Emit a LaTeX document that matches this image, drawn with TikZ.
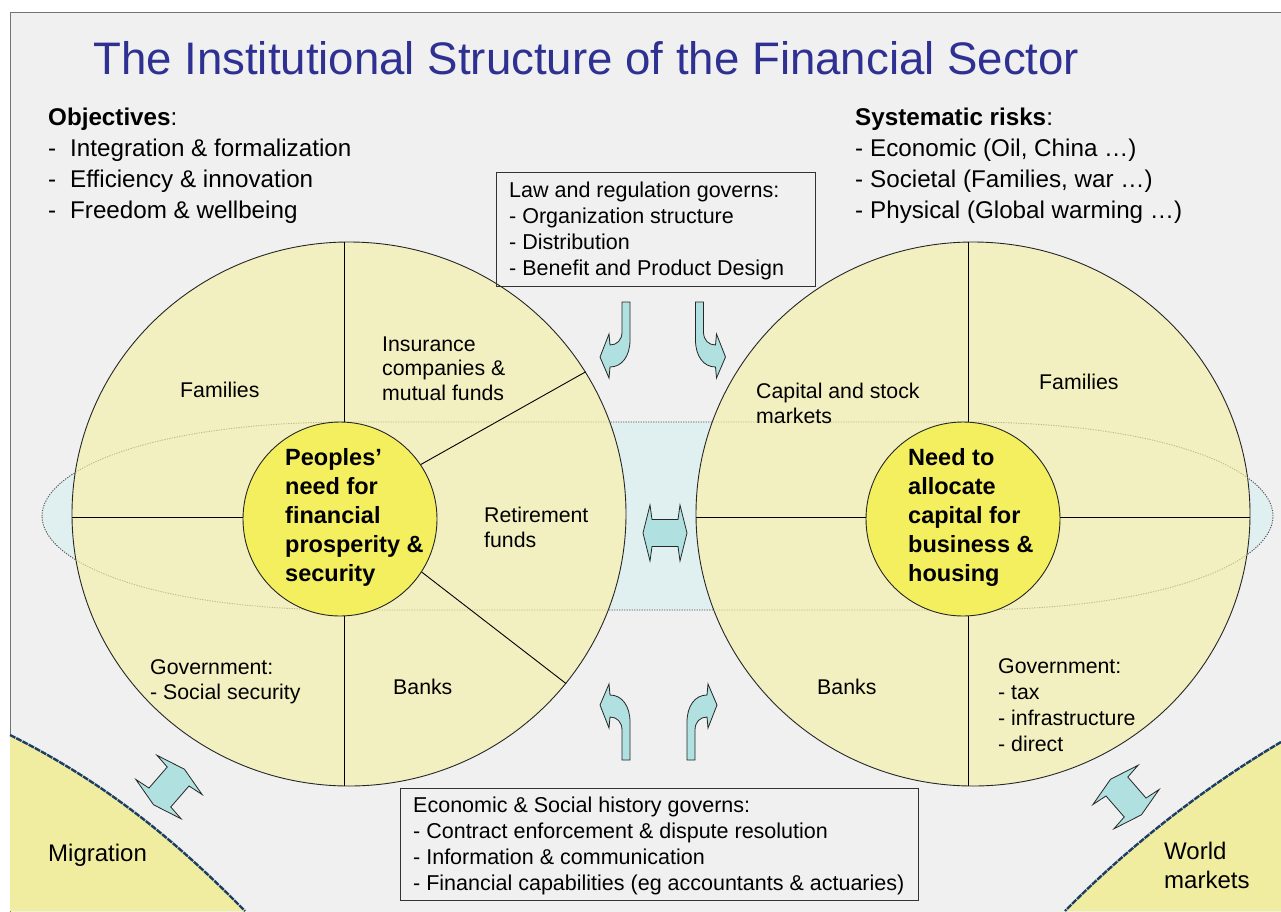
\documentclass[tikz,border=0pt]{standalone}
\usepackage{fontspec}
\setmainfont{Liberation Sans}
\usetikzlibrary{shapes.geometric}

\definecolor{bg}{RGB}{240,240,240}
\definecolor{paleyellow}{RGB}{242,240,192}
\definecolor{coreyellow}{RGB}{243,239,95}
\definecolor{cornerfill}{RGB}{241,237,160}
\definecolor{arrowcyan}{RGB}{176,224,224}
\definecolor{bandcyan}{RGB}{224,240,240}
\definecolor{titleblue}{RGB}{46,49,146}
\definecolor{rimblue}{RGB}{28,62,100}
\definecolor{faintdot}{RGB}{190,186,130}

\newcommand\fs[2]{\fontsize{#1}{#2}\selectfont}
% outline of the horizontal band joining both circles
\newcommand\bandpath{(42,516) .. controls (42,470) and (150,422) .. (350,422) -- (965,422)
  .. controls (1165,422) and (1273,470) .. (1273,516)
  .. controls (1273,562) and (1165,610) .. (965,610) -- (350,610)
  .. controls (150,610) and (42,562) .. (42,516) -- cycle}

% multi-line labels are placed by the baseline of their last line
\tikzset{
  outer/.style={ellipse, draw=black!85, line width=0.9pt, fill=paleyellow,
    minimum width=554pt, minimum height=544pt, inner sep=0pt},
  core/.style={circle, draw=black!85, line width=0.9pt, fill=coreyellow,
    minimum size=194pt, inner sep=0pt},
  divider/.style={draw=black, line width=0.9pt},
  lbl/.style={inner sep=0pt, anchor=base west, align=left, font=\fs{21.3}{25}},
  corelbl/.style={inner sep=0pt, anchor=base west, align=left, font=\fs{23.5}{29}\bfseries},
  textbox/.style={draw=black!80, line width=0.9pt, inner sep=0pt, anchor=north west},
  arrowfill/.style={fill=arrowcyan, draw=black!85, line width=0.8pt, line join=miter},
  rim/.style={draw=rimblue, line width=2.4pt, dash pattern=on 6pt off 1pt},
  bandline/.style={line width=0.9pt, dash pattern=on 1.2pt off 1.3pt},
  pics/bent/.style={code={
    \draw[arrowfill] (-4,0) -- (4,0) -- (4,38) .. controls (4,54) and (-4,65) .. (-16,65)
      -- (-17,76) -- (-26,55) -- (-17,32) -- (-16,43)
      .. controls (-9,43) and (-4,38) .. (-4,30) -- cycle;}},
  pics/dbl/.style={code={
    \draw[arrowfill] (-22,0) -- (-15,-28) -- (-13,-13.5) -- (13,-13.5) -- (15,-28)
      -- (22,0) -- (15,28) -- (13,13.5) -- (-13,13.5) -- (-15,28) -- cycle;}}
}

\begin{document}
\begin{tikzpicture}[x=1pt,y=-1pt]
\useasboundingbox (0,0) rectangle (1281,911);
\fill[white] (0,0) rectangle (1281,911);
\filldraw[fill=bg, draw=black!55, line width=1pt] (10,12) rectangle (1290,920);

% band behind the two circles
\fill[bandcyan] \bandpath;
\draw[black!70, bandline] \bandpath;

% outer circles
\node[outer] (Lout) at (349,514) {};
\node[outer] (Rout) at (973,514) {};

% band outline seen through the circles
\begin{scope}
  \clip (Lout.center) ellipse [x radius=277pt, y radius=272pt]
        (Rout.center) ellipse [x radius=277pt, y radius=272pt];
  \draw[faintdot, bandline] \bandpath;
\end{scope}

% centre circles
\node[core] (Lin) at (340,519) {};
\node[core] (Rin) at (963,519) {};

% dividers
\coordinate (Lv) at (344,0);
\coordinate (Rv) at (968,0);
\coordinate (Hz) at (0,517);
\draw[divider] (Lout.north -| Lv) -- (Lin.north -| Lv);
\draw[divider] (Lin.south -| Lv) -- (Lout.south -| Lv);
\draw[divider] (Lout.west |- Hz) -- (Lin.west |- Hz);
\draw[divider] (Lin.34.8) -- (Lout.31.4);
\draw[divider] (Lin.-33.4) -- (Lout.-38.2);
\draw[divider] (Rout.north -| Rv) -- (Rin.north -| Rv);
\draw[divider] (Rin.south -| Rv) -- (Rout.south -| Rv);
\draw[divider] (Rout.west |- Hz) -- (Rin.west |- Hz);
\draw[divider] (Rin.east |- Hz) -- (Rout.east |- Hz);

% corner regions
\fill[cornerfill] (10,735) .. controls (110,785) and (180,845) .. (245,911) -- (10,911) -- cycle;
\draw[rim] (10,735) .. controls (110,785) and (180,845) .. (245,911);
\fill[cornerfill] (1281,742) .. controls (1200,790) and (1125,850) .. (1065,911) -- (1281,911) -- cycle;
\draw[rim] (1281,742) .. controls (1200,790) and (1125,850) .. (1065,911);

% arrows
\pic at (626,302) {bent};
\pic[xscale=-1] at (699.5,302) {bent};
\pic[yscale=-1] at (626,760) {bent};
\pic[xscale=-1,yscale=-1] at (691,760) {bent};
\pic at (665,533) {dbl};
\pic[rotate=49, scale=1.07] at (169,787) {dbl};
\pic[rotate=-49, scale=1.07] at (1126,797) {dbl};

% title
\node[inner sep=0pt, anchor=base west, text=titleblue, font=\fs{45.6}{50}] (title)
  at (93,74) {The Institutional Structure of the Financial Sector};

% objectives and risks
\node[inner sep=0pt, anchor=base west, align=left, font=\fs{24.2}{31}] (objectives) at (48,218)
  {\textbf{Objectives}:\\
   \makebox[22pt][l]{-}Integration \& formalization\\
   \makebox[22pt][l]{-}Efficiency \& innovation\\
   \makebox[22pt][l]{-}Freedom \& wellbeing};
\node[inner sep=0pt, anchor=base west, align=left, font=\fs{24.2}{31}] (risks) at (855,218)
  {\textbf{Systematic risks}:\\
   \makebox[15pt][l]{-}Economic (Oil, China …)\\
   \makebox[15pt][l]{-}Societal (Families, war …)\\
   \makebox[15pt][l]{-}Physical (Global warming …)};

% governing boxes
\node[textbox, minimum width=319pt, minimum height=114pt] (lawbox) at (496,172) {};
\node[lbl, font=\fs{21.5}{25.7}] (lawtext) at (509,275)
  {Law and regulation governs:\\- Organization structure\\- Distribution\\- Benefit and Product Design};
\node[textbox, minimum width=518pt, minimum height=112pt] (histbox) at (400,788) {};
\node[lbl, font=\fs{21.5}{25.7}] (histtext) at (413,890)
  {Economic \& Social history governs:\\- Contract enforcement \& dispute resolution\\- Information \& communication\\- Financial capabilities (eg accountants \& actuaries)};

% left circle labels
\node[lbl] (famL) at (180,397) {Families};
\node[lbl, font=\fs{21.3}{24.5}] (insL) at (382,400) {Insurance\\companies \&\\mutual funds};
\node[lbl] (retL) at (484,547) {Retirement\\funds};
\node[lbl] (govL) at (150,699) {Government:\\- Social security};
\node[lbl] (bankL) at (393,694) {Banks};
\node[corelbl] (needL) at (285,581) {Peoples’\\need for\\financial\\prosperity \&\\security};

% right circle labels
\node[lbl] (capR) at (756,423) {Capital and stock\\markets};
\node[lbl] (famR) at (1039,389) {Families};
\node[lbl] (bankR) at (817,694) {Banks};
\node[lbl, font=\fs{21.3}{25.7}] (govR) at (998,751) {Government:\\- tax\\- infrastructure\\- direct};
\node[corelbl] (needR) at (908,581) {Need to\\allocate\\capital for\\business \&\\housing};

% corner labels
\node[inner sep=0pt, anchor=base west, font=\fs{24}{29}] (mig) at (48,861) {Migration};
\node[inner sep=0pt, anchor=base west, align=left, font=\fs{24}{29}] (world) at (1164,888) {World\\markets};
\end{tikzpicture}
\end{document}
